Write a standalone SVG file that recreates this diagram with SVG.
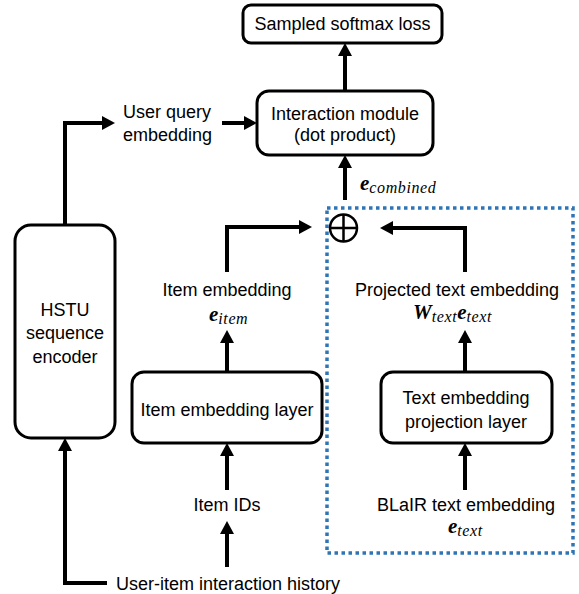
<svg xmlns="http://www.w3.org/2000/svg" width="579" height="594" viewBox="0 0 579 594">
<style>
.box{fill:#fff;stroke:#000;stroke-width:3}
.t{font-family:"Liberation Sans",Arial,sans-serif;font-size:18px;fill:#000;text-anchor:middle}
.tl{font-family:"Liberation Sans",Arial,sans-serif;font-size:18px;fill:#000}
.c{fill:none;stroke:#000;stroke-width:4;stroke-linejoin:miter}
.m{font-family:"Liberation Serif","Times New Roman",serif;font-style:italic;fill:#000}
.mb{font-weight:bold;font-size:21px}
.ms{font-size:16px;letter-spacing:0.6px}
</style>
<defs>
<marker id="ah" markerUnits="userSpaceOnUse" markerWidth="14" markerHeight="14" refX="4" refY="7" orient="auto">
<path d="M0,0 L13,7 L0,14 z" fill="#000"/>
</marker>
</defs>
<rect x="0" y="0" width="579" height="594" fill="#fff"/>
<g id="textbox">
<rect x="327" y="208" width="246" height="345" fill="none" stroke="#2E75B6" stroke-width="3.5" stroke-dasharray="3.5 3.5"/>
</g>
<g id="connectors">
<path class="c" d="M345,91 V52" marker-end="url(#ah)"/>
<path class="c" d="M345,200 V164" marker-end="url(#ah)"/>
<path class="c" d="M222,123 H248" marker-end="url(#ah)"/>
<path class="c" d="M65,225 V123 H106" marker-end="url(#ah)"/>
<path class="c" d="M107,583 H65 V447" marker-end="url(#ah)"/>
<path class="c" d="M227,490 V452" marker-end="url(#ah)"/>
<path class="c" d="M227,567 V530" marker-end="url(#ah)"/>
<path class="c" d="M227,372 V339" marker-end="url(#ah)"/>
<path class="c" d="M227,272 V227 H303" marker-end="url(#ah)"/>
<path class="c" d="M465,272 V228 H389" marker-end="url(#ah)"/>
<path class="c" d="M465,372 V339" marker-end="url(#ah)"/>
<path class="c" d="M465,490 V452" marker-end="url(#ah)"/>
</g>
<g id="softmax">
<rect class="box" x="243" y="5" width="199" height="38" rx="8"/>
<text class="t" x="342.5" y="30">Sampled softmax loss</text>
</g>
<g id="interaction">
<rect class="box" x="257" y="91" width="176" height="64" rx="12"/>
<text class="t" x="345" y="120">Interaction module</text>
<text class="t" x="345" y="141">(dot product)</text>
</g>
<g id="combined-label">
<text class="m" x="360" y="190"><tspan class="mb">e</tspan><tspan class="ms" dy="3">combined</tspan></text>
</g>
<g id="user-query">
<text class="tl" x="123" y="118">User query</text>
<text class="tl" x="123" y="141">embedding</text>
</g>
<g id="hstu">
<rect class="box" x="15" y="225" width="100" height="213" rx="16"/>
<text class="t" x="65" y="316">HSTU</text>
<text class="t" x="65" y="339">sequence</text>
<text class="t" x="65" y="363">encoder</text>
</g>
<g id="sum">
<circle cx="343.5" cy="228" r="13.5" fill="#fff" stroke="#000" stroke-width="2.5"/>
<path d="M330,228 H357 M343.5,214.5 V241.5" stroke="#000" stroke-width="2.5"/>
</g>
<g id="item-embedding">
<text class="t" x="227" y="296">Item embedding</text>
<text class="m" x="209" y="321"><tspan class="mb">e</tspan><tspan class="ms" dy="3">item</tspan></text>
</g>
<g id="item-layer">
<rect class="box" x="132" y="372" width="190" height="71" rx="12"/>
<text class="t" x="227" y="416">Item embedding layer</text>
</g>
<g id="item-ids">
<text class="t" x="227" y="511">Item IDs</text>
</g>
<g id="history">
<text class="tl" x="116" y="590">User-item interaction history</text>
</g>
<g id="projected">
<text class="t" x="457" y="296">Projected text embedding</text>
<text class="m" x="413" y="319"><tspan class="mb">W</tspan><tspan class="ms" dy="3">text</tspan><tspan class="mb" dy="-3">e</tspan><tspan class="ms" dy="3">text</tspan></text>
</g>
<g id="proj-layer">
<rect class="box" x="381" y="372" width="171" height="71" rx="12"/>
<text class="t" x="466" y="404">Text embedding</text>
<text class="t" x="466" y="428">projection layer</text>
</g>
<g id="blair">
<text class="t" x="466" y="511">BLaIR text embedding</text>
<text class="m" x="448" y="533"><tspan class="mb">e</tspan><tspan class="ms" dy="3">text</tspan></text>
</g>
</svg>
